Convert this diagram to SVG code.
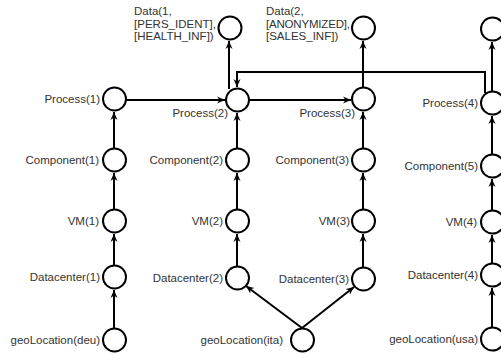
<svg xmlns="http://www.w3.org/2000/svg" width="501" height="354" viewBox="0 0 501 354">
<style>
.n circle{fill:#fff;stroke:#000;stroke-width:2}
text{font-family:"Liberation Sans",Arial,sans-serif;font-size:11.5px;fill:#333}
.r{text-anchor:end}
#edges path{fill:none;stroke:#000;stroke-width:2;marker-end:url(#a)}
</style>
<defs>
<marker id="a" markerUnits="userSpaceOnUse" markerWidth="9" markerHeight="8" refX="8" refY="4" orient="auto">
<path d="M0,0.5 L8,4 L0,7.5 L2.5,4 z" fill="#000"/>
</marker>
</defs>
<rect width="501" height="354" fill="#fff"/>
<g id="edges">
<path d="M114,328 V290"/>
<path d="M114,265 V234"/>
<path d="M114,209 V173"/>
<path d="M114,148 V112"/>
<path d="M126,100 H225"/>
<path d="M237,266 V234"/>
<path d="M237,209 V173"/>
<path d="M237,148 V113"/>
<path d="M229,89 V41"/>
<path d="M249,100 H351"/>
<path d="M363,267 V234"/>
<path d="M363,209 V173"/>
<path d="M363,148 V112"/>
<path d="M363,87 V41"/>
<path d="M485,93 V72 H237 V87"/>
<path d="M492,91 V42"/>
<path d="M492,327 V288"/>
<path d="M492,263 V235"/>
<path d="M492,210 V179"/>
<path d="M492,154 V116"/>
<path d="M302,328 L246,286"/>
<path d="M302,328 L354,287"/>
</g>
<g id="data1" class="n"><circle cx="230" cy="28" r="11.5"/><text x="134" y="15">Data(1,</text><text x="134" y="28" textLength="82">[PERS_IDENT],</text><text x="134" y="40">[HEALTH_INF])</text></g>
<g id="data2" class="n"><circle cx="363.5" cy="28" r="11.5"/><text x="266" y="15">Data(2,</text><text x="266" y="28" textLength="84">[ANONYMIZED],</text><text x="266" y="40">[SALES_INF])</text></g>
<g id="data3" class="n"><circle cx="492.5" cy="29" r="11.5"/></g>
<g id="process1" class="n"><circle cx="114.5" cy="99" r="11.5"/><text class="r" x="100" y="103">Process(1)</text></g>
<g id="process2" class="n"><circle cx="237.5" cy="100" r="11.5"/><text class="r" x="228" y="117">Process(2)</text></g>
<g id="process3" class="n"><circle cx="363.5" cy="99" r="11.5"/><text class="r" x="355" y="117">Process(3)</text></g>
<g id="process4" class="n"><circle cx="492.5" cy="103" r="11.5"/><text class="r" x="478" y="107">Process(4)</text></g>
<g id="component1" class="n"><circle cx="114.5" cy="160" r="11.5"/><text class="r" x="99" y="164">Component(1)</text></g>
<g id="component2" class="n"><circle cx="237.5" cy="160" r="11.5"/><text class="r" x="223" y="164">Component(2)</text></g>
<g id="component3" class="n"><circle cx="363.5" cy="160" r="11.5"/><text class="r" x="349" y="164">Component(3)</text></g>
<g id="component5" class="n"><circle cx="492.5" cy="166" r="11.5"/><text class="r" x="478" y="170">Component(5)</text></g>
<g id="vm1" class="n"><circle cx="114.5" cy="221" r="11.5"/><text class="r" x="99" y="225">VM(1)</text></g>
<g id="vm2" class="n"><circle cx="237.5" cy="221" r="11.5"/><text class="r" x="223" y="225">VM(2)</text></g>
<g id="vm3" class="n"><circle cx="363.5" cy="221" r="11.5"/><text class="r" x="350" y="225">VM(3)</text></g>
<g id="vm4" class="n"><circle cx="492.5" cy="222" r="11.5"/><text class="r" x="477" y="226">VM(4)</text></g>
<g id="dc1" class="n"><circle cx="114.5" cy="277" r="11.5"/><text class="r" x="100" y="281">Datacenter(1)</text></g>
<g id="dc2" class="n"><circle cx="237.5" cy="278" r="11.5"/><text class="r" x="223" y="282">Datacenter(2)</text></g>
<g id="dc3" class="n"><circle cx="363.5" cy="279" r="11.5"/><text class="r" x="349" y="283">Datacenter(3)</text></g>
<g id="dc4" class="n"><circle cx="492.5" cy="275" r="11.5"/><text class="r" x="478" y="279">Datacenter(4)</text></g>
<g id="geo_deu" class="n"><circle cx="114.5" cy="340" r="11.5"/><text class="r" x="100" y="344">geoLocation(deu)</text></g>
<g id="geo_ita" class="n"><circle cx="302.5" cy="340" r="11.5"/><text class="r" x="283" y="344">geoLocation(ita)</text></g>
<g id="geo_usa" class="n"><circle cx="492.5" cy="339" r="11.5"/><text class="r" x="478" y="343">geoLocation(usa)</text></g>
</svg>
